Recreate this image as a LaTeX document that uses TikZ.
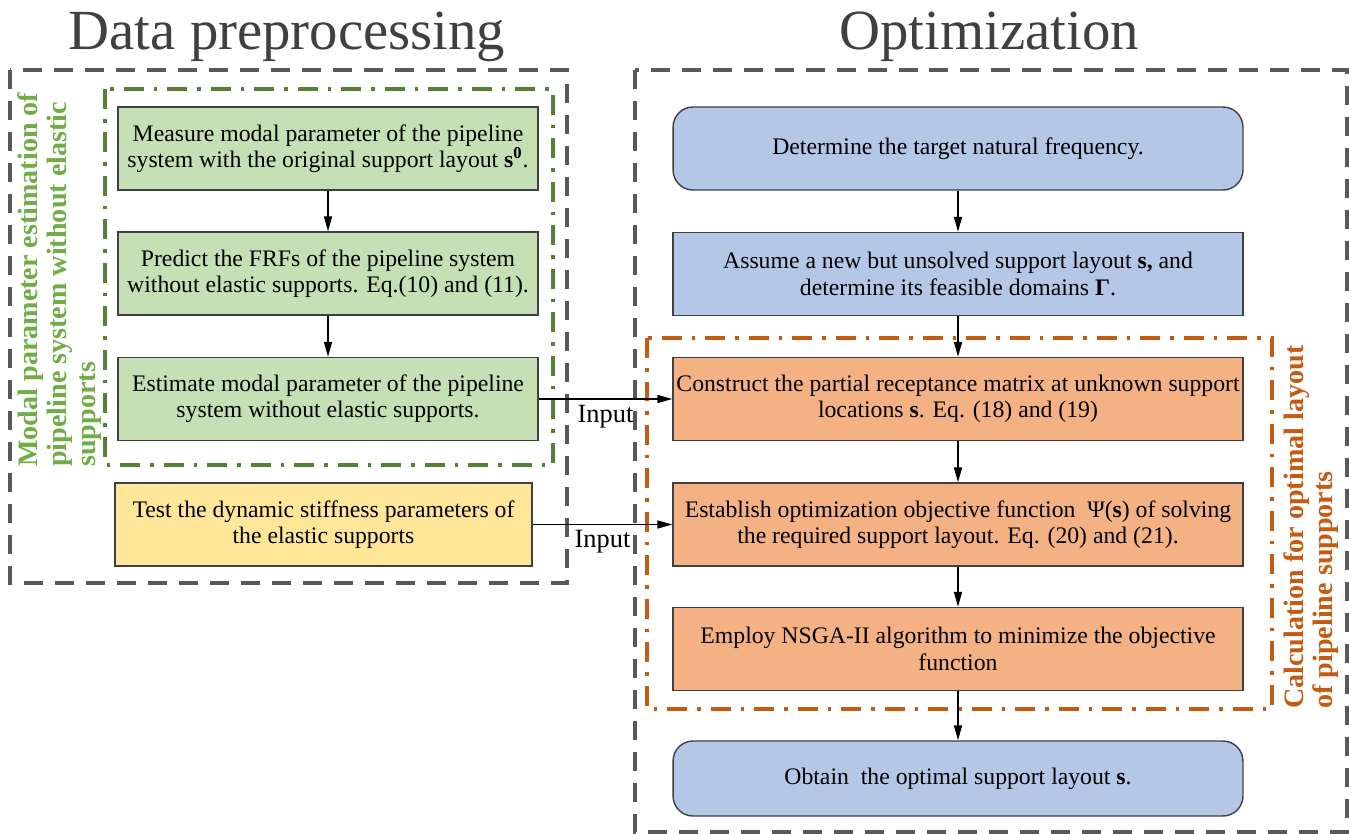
\documentclass[tikz,border=0pt]{standalone}
\usepackage{fontspec}
\setmainfont{Liberation Serif}
\usepackage{tikz}
\usetikzlibrary{arrows.meta}
\definecolor{greenfill}{HTML}{C5E0B4}
\definecolor{yellowfill}{HTML}{FFE699}
\definecolor{bluefill}{HTML}{B4C7E7}
\definecolor{orangefill}{HTML}{F4B183}
\definecolor{framegray}{HTML}{595959}
\definecolor{titlegray}{HTML}{404040}
\definecolor{greenline}{HTML}{548235}
\definecolor{greentext}{HTML}{70AD47}
\definecolor{orangeline}{HTML}{C55A11}
\begin{document}
\begin{tikzpicture}[x=0.02cm, y=-0.02cm,
    stepbox/.style={draw=titlegray, line width=0.8pt, align=center, inner sep=0pt,
        font=\fontsize{13.5}{15}\selectfont},
    leftbox/.style={stepbox, minimum width=8.4cm, minimum height=1.66cm},
    rightbox/.style={stepbox, minimum width=11.4cm, minimum height=1.66cm},
    roundbox/.style={rightbox, fill=bluefill, rounded corners=0.4cm},
    flow/.style={-{Triangle[length=0.3cm, width=0.16cm]}, line width=0.9pt},
    outerframe/.style={draw=framegray, line width=2.2pt, dash pattern=on 0.38cm off 0.24cm},
    groupframe/.style={line width=2pt, dash pattern=on 0.4cm off 0.2cm on 0.07cm off 0.2cm},
    sidetitle/.style={rotate=90, anchor=north west, align=left, inner sep=0pt,
        font=\fontsize{16}{16.5}\selectfont\bfseries},
    headtitle/.style={anchor=base, text=titlegray, font=\fontsize{32.3}{35}\selectfont}]
    \useasboundingbox (0,0) rectangle (1349,833);
    \node [headtitle] (datatitle) at (287,49) {Data preprocessing};
    \node [headtitle] (opttitle) at (989,49) {Optimization};
    \draw [outerframe] (10,70) rectangle (567,583);
    \draw [outerframe] (635,70) rectangle (1347,832);
    \draw [groupframe, draw=greenline] (105,89) rectangle (553,465);
    \draw [groupframe, draw=orangeline] (647,338) rectangle (1272,709);
    \node [sidetitle, text=greentext] (modaltitle) at (17,467)
        {Modal parameter estimation of\\pipeline system without elastic\\supports};
    \node [sidetitle, text=orangeline] (calctitle) at (1283,709)
        {Calculation for optimal layout\\of pipeline supports};
    \node [leftbox, fill=greenfill] (measure) at (328,148.5)
        {Measure modal parameter of the pipeline\\system with the original support layout \textbf{s}\textsuperscript{\textbf{0}}.};
    \node [leftbox, fill=greenfill] (predict) at (328,273.5)
        {Predict the FRFs of the pipeline system\\without elastic supports. Eq.(10) and (11).};
    \node [leftbox, fill=greenfill] (estimate) at (328,399)
        {Estimate modal parameter of the pipeline\\system without elastic supports.};
    \node [leftbox, fill=yellowfill, minimum width=8.34cm] (stiffness) at (323.5,524.5)
        {Test the dynamic stiffness parameters of\\the elastic supports};
    \node [roundbox, minimum height=1.66cm] (target) at (958,148.5)
        {Determine the target natural frequency.};
    \node [rightbox, fill=bluefill] (assume) at (958,274)
        {Assume a new but unsolved support layout \textbf{s,} and\\determine its feasible domains \textbf{Γ}.};
    \node [rightbox, fill=orangefill] (construct) at (958,399)
        {Construct the partial receptance matrix at unknown support\\locations \textbf{s}. Eq. (18) and (19)};
    \node [rightbox, fill=orangefill] (establish) at (958,524.5)
        {Establish optimization objective function ~Ψ(\textbf{s}) of solving\\the required support layout. Eq. (20) and (21).};
    \node [rightbox, fill=orangefill] (employ) at (958,649)
        {Employ NSGA-II algorithm to minimize the objective\\function};
    \node [roundbox, minimum height=1.5cm] (obtain) at (958,778.5)
        {Obtain ~the optimal support layout \textbf{s}.};
    \draw [flow] (measure) -- (predict);
    \draw [flow] (predict) -- (estimate);
    \draw [flow] (target) -- (assume);
    \draw [flow] (assume) -- (construct);
    \draw [flow] (construct) -- (establish);
    \draw [flow] (establish) -- (employ);
    \draw [flow] (employ) -- (obtain);
    \draw [flow] (estimate.east) -- node [below, font=\fontsize{15}{16}\selectfont, inner sep=3pt] {Input} (construct.west);
    \draw [flow] (stiffness.east) -- node [below, font=\fontsize{15}{16}\selectfont, inner sep=3pt] {Input} (establish.west);
\end{tikzpicture}
\end{document}
